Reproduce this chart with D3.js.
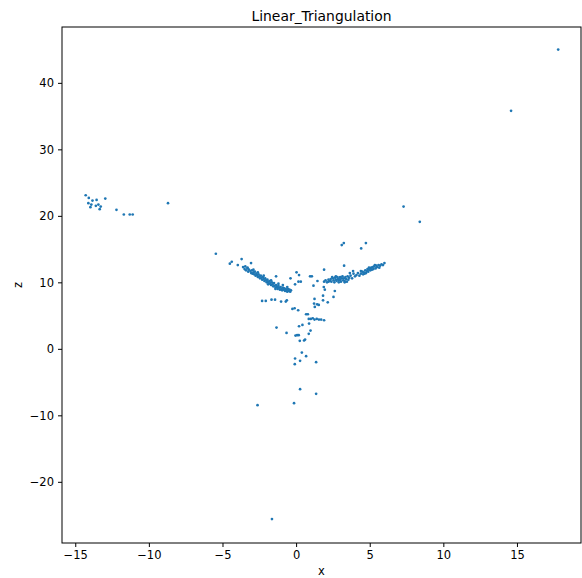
<!DOCTYPE html>
<html>
<head>
<meta charset="utf-8">
<script src="https://cdn.jsdelivr.net/npm/d3@7"></script>
<style>
  html, body { margin: 0; padding: 0; background: #fff; }
  svg { display: block; }
  text { font-family: "DejaVu Sans", sans-serif; fill: #000; }
</style>
</head>
<body>
<svg id="chart" width="582" height="578"></svg>
<script>
// ---- data ----
const chartTitle = "Linear_Triangulation";
const xLabel = "x";
const yLabel = "z";
const xTicks = [-15, -10, -5, 0, 5, 10, 15];
const yTicks = [-20, -10, 0, 10, 20, 30, 40];

const farOutliers = [
  [17.8, 45.0], [14.6, 35.8], [8.4, 19.1], [7.3, 21.4], [-8.7, 21.9],
  [-1.64, -25.6], [-2.62, -8.47], [-0.14, -8.17], [1.36, -6.77], [0.27, -6.06]
];

const leftCluster = [
  [-14.29, 23.1], [-14.08, 22.7], [-13.83, 22.3], [-13.55, 22.4], [-12.96, 22.6],
  [-14.11, 21.9], [-13.91, 21.7], [-13.97, 21.3], [-13.6, 21.5], [-13.43, 21.7],
  [-13.27, 21.4], [-13.34, 21.0], [-12.2, 20.9], [-11.7, 20.2], [-11.3, 20.2],
  [-11.1, 20.2]
];

const leftArm = [
  [-5.45, 14.3], [-4.5, 12.8], [-4.37, 13.1], [-3.7, 13.5], [-3.96, 12.6], [-3.06, 12.9],
  [-3.6, 12.3], [-3.5, 12.0], [-3.45, 12.4], [-3.4, 11.8], [-3.3, 12.1], [-3.25, 11.6],
  [-3.2, 11.9], [-3.1, 11.7], [-3.05, 11.4], [-3.0, 11.8], [-2.95, 11.3], [-2.9, 11.5],
  [-2.85, 11.2], [-2.8, 11.6], [-2.75, 11.0], [-2.7, 11.3], [-2.65, 11.1], [-2.6, 10.8],
  [-2.55, 11.2], [-2.5, 10.9], [-2.45, 10.6], [-2.4, 11.0], [-2.35, 10.7], [-2.3, 10.4],
  [-2.25, 10.8], [-2.2, 10.5], [-2.15, 10.2], [-2.1, 10.6], [-2.05, 10.3], [-2.0, 10.0],
  [-1.95, 10.4], [-1.9, 10.1], [-1.85, 9.8], [-1.8, 10.2], [-1.75, 9.9], [-1.7, 9.6],
  [-1.65, 10.0], [-1.6, 9.7], [-1.55, 9.4], [-1.5, 9.9], [-1.45, 9.5], [-1.4, 9.2],
  [-1.35, 9.6], [-1.3, 9.3], [-1.25, 9.0], [-1.2, 9.5], [-1.15, 9.2], [-1.1, 8.9],
  [-1.05, 9.3], [-1.0, 9.0], [-0.95, 8.8], [-0.9, 9.2], [-0.85, 8.9], [-0.8, 9.1],
  [-0.75, 8.7], [-0.7, 9.0], [-0.65, 8.8], [-0.6, 8.6], [-0.55, 9.0], [-0.5, 8.7],
  [-0.45, 8.9], [-0.4, 8.6], [-0.35, 8.8], [-3.3, 12.2], [-2.9, 11.9], [-2.2, 11.0],
  [-1.7, 10.3], [-1.2, 9.8], [-0.9, 9.6], [-2.6, 11.5], [-1.9, 9.7], [-1.4, 9.0],
  [-0.6, 9.3], [-1.36, 10.9]
];

const rightArm = [
  [1.9, 10.1], [2.0, 10.3], [2.1, 10.0], [2.2, 10.4], [2.3, 10.2], [2.35, 10.5],
  [2.4, 10.1], [2.5, 10.6], [2.55, 10.3], [2.6, 10.0], [2.65, 10.7], [2.7, 10.4],
  [2.75, 10.2], [2.8, 10.8], [2.85, 10.5], [2.9, 10.3], [2.95, 10.7], [3.0, 10.4],
  [3.05, 10.1], [3.1, 10.6], [3.15, 10.9], [3.2, 10.3], [3.25, 10.6], [3.3, 10.2],
  [3.35, 10.8], [3.4, 10.5], [3.45, 10.1], [3.5, 10.9], [3.55, 10.4], [3.6, 10.7],
  [2.45, 10.8], [2.7, 10.9], [3.0, 10.8], [2.2, 10.1], [2.9, 10.0], [3.3, 10.0],
  [3.7, 11.0], [3.8, 10.6], [3.9, 11.3], [4.0, 10.9], [4.1, 11.1], [4.2, 11.4],
  [4.3, 11.0], [4.4, 11.3], [4.5, 11.6], [4.55, 11.2], [4.6, 11.5], [4.7, 11.8],
  [4.75, 11.4], [4.8, 11.7], [4.85, 12.0], [4.9, 11.6], [4.95, 11.9], [5.0, 12.1],
  [5.05, 11.8], [5.1, 12.2], [5.15, 11.9], [5.2, 12.3], [5.25, 12.0], [5.3, 12.4],
  [5.4, 12.1], [5.45, 12.5], [5.5, 12.3], [5.6, 12.6], [5.65, 12.2], [5.7, 12.5],
  [5.8, 12.7], [5.9, 12.6], [6.0, 12.9], [4.65, 11.3], [4.95, 12.2], [5.35, 12.6],
  [4.4, 11.7], [3.65, 11.4], [3.87, 11.7], [3.26, 12.5], [1.9, 11.9],
  [3.1, 15.6], [3.24, 15.9], [4.74, 15.9], [4.42, 15.1]
];

const stem = [
  [0.03, 11.5], [0.2, 11.1], [-0.38, 10.6], [0.16, 10.1], [0.32, 10.1], [-0.07, 9.7],
  [0.95, 10.9], [1.07, 10.9], [1.45, 10.2], [1.18, 9.5], [1.88, 9.3], [1.95, 8.9],
  [2.63, 8.7], [1.83, 8.0], [2.54, 7.8], [-2.31, 7.2], [-2.06, 7.2], [-1.67, 7.4],
  [-1.43, 7.4], [-1.02, 7.1], [-0.7, 7.1], [-0.63, 7.3], [1.25, 7.5], [1.22, 6.8],
  [1.43, 6.7], [1.54, 6.6], [1.83, 7.3], [2.15, 7.0], [-0.25, 6.0], [-0.1, 6.1],
  [0.14, 5.8], [0.68, 5.2], [0.8, 5.2], [0.86, 4.5], [1.0, 4.5], [1.13, 4.6],
  [1.25, 4.4], [1.4, 4.5], [1.55, 4.4], [1.7, 4.4], [1.9, 4.3], [1.27, 6.3],
  [0.88, 3.8], [0.43, 3.6], [0.2, 3.4], [-1.33, 3.2], [0.98, 2.75], [-0.65, 2.4],
  [-0.04, 2.0], [0.07, 2.06], [0.18, 2.06], [0.86, 2.26], [0.25, 1.2], [0.54, 1.25],
  [0.61, 1.4], [0.39, -0.56], [0.68, -1.1], [-0.07, -1.45], [0.27, -1.8],
  [-0.09, -2.3], [1.36, -2.0]
];

// ---- layout ----
const svg = d3.select("#chart");
const margin = { left: 62, right: 1, top: 27, bottom: 35 };
const W = 582, H = 578;
const plotW = W - margin.left - margin.right;
const plotH = H - margin.top - margin.bottom;

const x = d3.scaleLinear().domain([-15.9, 19.35]).range([margin.left, margin.left + plotW]);
const y = d3.scaleLinear().domain([-29.2, 48.4]).range([margin.top + plotH, margin.top]);

const color = "#1f77b4";
const allPoints = [].concat(farOutliers, leftCluster, leftArm, rightArm, stem);

svg.append("g")
  .selectAll("circle")
  .data(allPoints)
  .join("circle")
  .attr("cx", d => x(d[0]))
  .attr("cy", d => y(d[1]))
  .attr("r", 1.35)
  .attr("fill", color);

// frame
svg.append("rect")
  .attr("x", margin.left).attr("y", margin.top)
  .attr("width", plotW).attr("height", plotH)
  .attr("fill", "none").attr("stroke", "#000").attr("stroke-width", 1);

// axes
const fmt = d => (d < 0 ? "\u2212" + Math.abs(d) : String(d));
const xAxis = svg.append("g")
  .attr("transform", `translate(0,${margin.top + plotH})`)
  .call(d3.axisBottom(x).tickValues(xTicks).tickFormat(fmt).tickSizeOuter(0).tickSize(4).tickPadding(4));
const yAxis = svg.append("g")
  .attr("transform", `translate(${margin.left},0)`)
  .call(d3.axisLeft(y).tickValues(yTicks).tickFormat(fmt).tickSizeOuter(0).tickSize(4).tickPadding(4));
[xAxis, yAxis].forEach(g => {
  g.select(".domain").remove();
  g.selectAll("text").attr("font-family", "DejaVu Sans, sans-serif").attr("font-size", 11.5).attr("fill", "#000");
  g.selectAll("line").attr("stroke", "#000");
});

// title and labels
svg.append("text")
  .attr("x", margin.left + plotW / 2).attr("y", 21)
  .attr("text-anchor", "middle").attr("font-size", 13.9)
  .text(chartTitle);
svg.append("text")
  .attr("x", margin.left + plotW / 2).attr("y", 575)
  .attr("text-anchor", "middle").attr("font-size", 11.5)
  .text(xLabel);
svg.append("text")
  .attr("transform", `translate(22,${margin.top + plotH / 2}) rotate(-90)`)
  .attr("text-anchor", "middle").attr("font-size", 11.5)
  .text(yLabel);
</script>
</body>
</html>
